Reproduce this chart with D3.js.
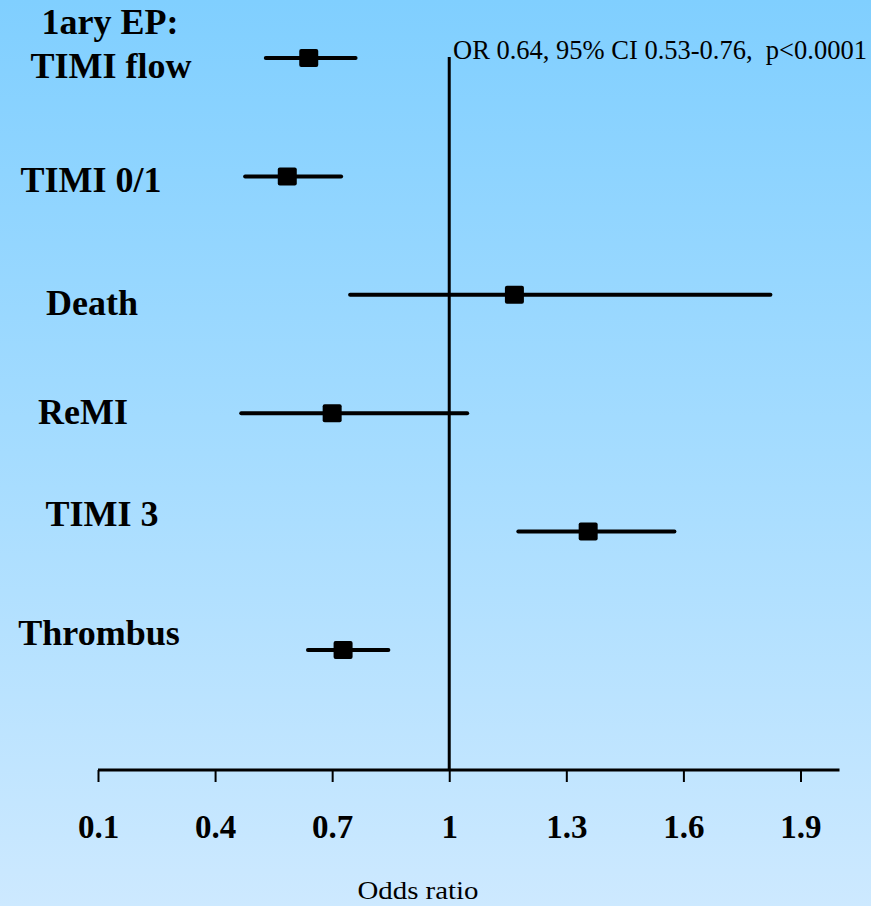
<!DOCTYPE html>
<html>
<head>
<meta charset="utf-8">
<script src="https://cdn.jsdelivr.net/npm/d3@7"></script>
<style>
  body { margin: 0; padding: 0; overflow: hidden; }
  svg { display: block; }
</style>
</head>
<body>
<div id="forest"></div>
<script>
// data
var categories = ["TIMI flow", "TIMI 0/1", "Death", "ReMI", "TIMI 3", "Thrombus"];
var oddsRatio = [0.64, 0.585, 1.167, 0.70, 1.356, 0.728];
var ciLower = [0.53, 0.477, 0.746, 0.467, 1.177, 0.638];
var ciUpper = [0.76, 0.723, 1.823, 1.046, 1.577, 0.844];
var tickValues = [0.1, 0.4, 0.7, 1, 1.3, 1.6, 1.9];
var annotation = "OR 0.64, 95% CI 0.53-0.76,  p<0.0001";

// label placement (layout only)
var labelLayout = {
  "TIMI flow": { x: 111, dy: 20, pre: "1ary EP:" },
  "TIMI 0/1": { x: 91, dy: 16 },
  "Death": { x: 92, dy: 20 },
  "ReMI": { x: 83, dy: 11 },
  "TIMI 3": { x: 102, dy: -6 },
  "Thrombus": { x: 99, dy: -5 }
};

function createForestPlot() {
  width = 871;
  height = 906;

  var rows = categories.map(function (c, i) {
    return { name: c, or: oddsRatio[i], lo: ciLower[i], hi: ciUpper[i] };
  });

  var svg = d3
    .select("div#forest")
    .append("svg")
    .attr("width", width)
    .attr("height", height);

  // background gradient
  var grad = svg.append("defs").append("linearGradient")
    .attr("id", "bg").attr("x1", 0).attr("y1", 0).attr("x2", 0).attr("y2", 1);
  grad.append("stop").attr("offset", "0%").attr("stop-color", "#80cfff");
  grad.append("stop").attr("offset", "50%").attr("stop-color", "#a5dcff");
  grad.append("stop").attr("offset", "100%").attr("stop-color", "#cde9ff");
  svg.append("rect").attr("width", width).attr("height", height).attr("fill", "url(#bg)");

  x = d3.scaleLinear().domain([0.1, 2.0]).range([98, 839.5]);
  y = d3.scalePoint().domain(categories).range([58, 650]);

  var axisY = 770;

  // x axis
  var ax = svg.append("g")
    .attr("class", "xAxis")
    .attr("transform", `translate(0, ${axisY})`)
    .call(d3.axisBottom(x).tickValues(tickValues).tickSize(12).tickSizeOuter(0)
      .tickFormat(function (d) { return d3.format("")(d); }));
  ax.select(".domain").attr("stroke", "#000").attr("stroke-width", 3)
    .attr("d", `M${x(0.1)},0H${x(2.0)}`);
  ax.selectAll(".tick line").attr("stroke", "#000").attr("stroke-width", 2);
  ax.selectAll(".tick text")
    .attr("y", 68)
    .attr("dy", 0)
    .attr("fill", "#000")
    .style("font-family", "'Liberation Serif', 'Times New Roman', serif")
    .style("font-weight", "bold")
    .style("font-size", "33px");

  // reference line at OR = 1
  svg.append("line")
    .attr("x1", x(1)).attr("x2", x(1))
    .attr("y1", 57).attr("y2", axisY)
    .attr("stroke", "#000").attr("stroke-width", 3);

  // CI lines
  svg.append("g").selectAll("line")
    .data(rows)
    .join("line")
    .attr("x1", (d) => x(d.lo))
    .attr("x2", (d) => x(d.hi))
    .attr("y1", (d) => y(d.name))
    .attr("y2", (d) => y(d.name))
    .attr("stroke", "#000")
    .attr("stroke-width", 4)
    .attr("stroke-linecap", "round");

  // point estimates
  svg.append("g").selectAll("rect")
    .data(rows)
    .join("rect")
    .attr("x", (d) => x(d.or) - 9.5)
    .attr("y", (d) => y(d.name) - 9)
    .attr("width", 19)
    .attr("height", 18)
    .attr("rx", 2)
    .attr("fill", "#000");

  // row labels
  var labels = svg.append("g")
    .style("font-family", "'Liberation Serif', 'Times New Roman', serif")
    .style("font-weight", "bold")
    .style("font-size", "36px")
    .attr("text-anchor", "middle");

  rows.forEach(function (d) {
    var l = labelLayout[d.name];
    labels.append("text")
      .attr("x", l.x)
      .attr("y", y(d.name) + l.dy)
      .text(d.name);
    if (l.pre) {
      labels.append("text")
        .attr("x", l.x - 1)
        .attr("y", y(d.name) + l.dy - 44)
        .text(l.pre);
    }
  });

  // annotation
  svg.append("text")
    .attr("x", 453)
    .attr("y", 59)
    .attr("xml:space", "preserve")
    .style("white-space", "pre")
    .style("font-family", "'Liberation Serif', 'Times New Roman', serif")
    .style("font-size", "26.5px")
    .text(annotation);

  // axis title
  svg.append("text")
    .attr("x", 418)
    .attr("y", 899)
    .attr("text-anchor", "middle")
    .attr("textLength", 121)
    .attr("lengthAdjust", "spacingAndGlyphs")
    .style("font-family", "'Liberation Serif', 'Times New Roman', serif")
    .style("font-size", "26px")
    .text("Odds ratio");
}

createForestPlot();
</script>
</body>
</html>
